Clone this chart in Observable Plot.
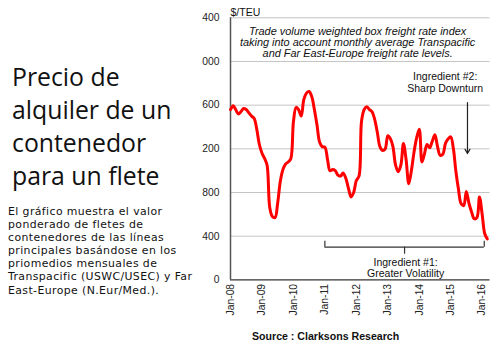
<!DOCTYPE html>
<html>
<head>
<meta charset="utf-8">
<script src="https://cdn.jsdelivr.net/npm/d3@7"></script>
<script src="https://cdn.jsdelivr.net/npm/@observablehq/plot@0.6"></script>
<style>
  html, body { margin: 0; padding: 0; background: #fff; }
  #wrap { position: relative; width: 493px; height: 349px; overflow: hidden; }
  #chart { position: absolute; left: 0; top: 0; }
  #panel { position: absolute; left: 0; top: 0; width: 202px; height: 349px; background: #fff; }
  #title { position: absolute; left: 12px; top: 60px; font-family: "Open Sans", sans-serif; font-size: 24.8px; line-height: 33px; color: #111; white-space: nowrap; }
  #desc { position: absolute; left: 8px; top: 205px; font-family: "DejaVu Sans", sans-serif; font-size: 10.9px; line-height: 13.1px; letter-spacing: 0.4px; color: #111; white-space: nowrap; }
  #source { position: absolute; left: 252px; top: 330px; font-family: "Liberation Sans", Arial, sans-serif; font-weight: bold; font-size: 10.6px; color: #111; white-space: nowrap; }
</style>
</head>
<body>
<div id="wrap">
  <div id="chart"></div>
  <div id="panel">
    <div id="title">Precio de<br>alquiler de un<br>contenedor<br>para un flete</div>
    <div id="desc">El gráfico muestra el valor<br>ponderado de fletes de<br>contenedores de las líneas<br>principales basándose en los<br>priomedios mensuales de<br>Transpacific (USWC/USEC) y Far<br>East-Europe (N.Eur/Med.).</div>
  </div>
  <div id="source">Source : Clarksons Research</div>
</div>
<script>
// Monthly box freight rate index ($/TEU), Jan-2008 onward
const rates = [
  1560, 1595, 1560, 1520, 1540, 1570, 1560, 1530, 1500, 1480, 1380, 1240, // 2008
  1160, 1110, 1050, 660, 580, 570, 700, 900, 1010, 1060, 1080, 1110,      // 2009
  1450, 1580, 1560, 1500, 1650, 1710, 1725, 1680, 1560, 1420, 1260, 1220, // 2010
  1215, 1100, 1000, 1010, 1000, 960, 950, 980, 930, 840, 760, 800,        // 2011
  910, 950, 1450, 1560, 1585, 1560, 1540, 1470, 1350, 1220, 1185, 1200,   // 2012
  1320, 1290, 1220, 1050, 990, 1050, 1250, 1100, 880, 1000, 1170, 1300,   // 2013
  1380, 1080, 1150, 1240, 1210, 1270, 1330, 1220, 1140, 1150, 1250, 1290, // 2014
  1310, 1200, 1000, 830, 700, 680, 810, 700, 620, 560, 570, 760,          // 2015
  600, 420, 375                                                          // 2016
];
const yTicks = [0, 400, 800, 1200, 1600, 2000, 2400];
const xTickYears = [2008, 2009, 2010, 2011, 2012, 2013, 2014, 2015, 2016];
const unitLabel = "$/TEU";
const noteText = "Trade volume weighted box freight rate index\ntaking into account monthly average Transpacific\nand Far East-Europe freight rate levels.";
const ingredient2 = "Ingredient #2:\nSharp Downturn";
const ingredient1 = "Ingredient #1:\nGreater Volatility";

const start = Date.UTC(2008, 0, 1);
const mt = m => new Date(start + m * 30.4375 * 864e5);
const data = rates.map((v, i) => ({date: new Date(Date.UTC(2008, i, 1)), value: v}));
const xTicks = xTickYears.map(y => new Date(Date.UTC(y, 0, 1)));
const fmt = d3.utcFormat("%b-%y");
const font = "Liberation Sans, Arial, sans-serif";

const chart = Plot.plot({
  width: 493,
  height: 349,
  marginLeft: 230,
  marginRight: 3.5,
  marginTop: 17.3,
  marginBottom: 69.6,
  style: {fontFamily: font, fontSize: "10.3px", color: "#222", background: "transparent"},
  x: {type: "utc", domain: [new Date(Date.UTC(2008, 0, 1)), new Date(Date.UTC(2016, 3, 1))]},
  y: {domain: [0, 2400]},
  marks: [
    Plot.gridY(yTicks.filter(d => d > 0), {stroke: "#c4c4c4", strokeOpacity: 1, strokeWidth: 1}),
    Plot.axisY({ticks: yTicks, tickSize: 0, tickPadding: 11, label: null, tickFormat: d => String(d), fill: "#222"}),
    Plot.axisX({ticks: xTicks, tickSize: 0, tickPadding: 4, tickRotate: -90, tickFormat: fmt, label: null, fill: "#222"}),
    Plot.ruleY([0], {stroke: "#333", strokeWidth: 1.2}),
    Plot.ruleX([new Date(start)], {stroke: "#555", strokeWidth: 1.5}),
    Plot.text([unitLabel], {frameAnchor: "top-left", dy: -9, dx: 0, text: d => d, fontSize: 10.5, textAnchor: "start", fill: "#111"}),
    Plot.text([noteText], {x: mt(48.5), y: 2177, text: d => d, fontStyle: "italic", fontSize: 10.9, lineHeight: 1.0, fill: "#111"}),
    Plot.text([ingredient2], {x: mt(81.9), y: 1808, text: d => d, fontSize: 10.5, lineHeight: 1.15, fill: "#111"}),
    Plot.arrow([0], {x1: mt(90.4), y1: 1624, x2: mt(90.4), y2: 1157, stroke: "#222", strokeWidth: 1.2, headLength: 6, bend: 0}),
    Plot.ruleY([300], {x1: mt(36), x2: mt(96.8), stroke: "#333", strokeWidth: 1.2}),
    Plot.ruleX([mt(36), mt(96.8)], {y1: 300, y2: 354, stroke: "#333", strokeWidth: 1.2}),
    Plot.ruleX([mt(66.4)], {y1: 300, y2: 235, stroke: "#333", strokeWidth: 1.2}),
    Plot.text([ingredient1], {x: mt(66.8), y: 112, text: d => d, fontSize: 10.5, lineHeight: 1.1, fill: "#111"}),
    Plot.line(data, {x: "date", y: "value", stroke: "#ff0000", strokeWidth: 3, curve: "catmull-rom"})
  ]
});
document.getElementById("chart").appendChild(chart);
</script>
</body>
</html>
